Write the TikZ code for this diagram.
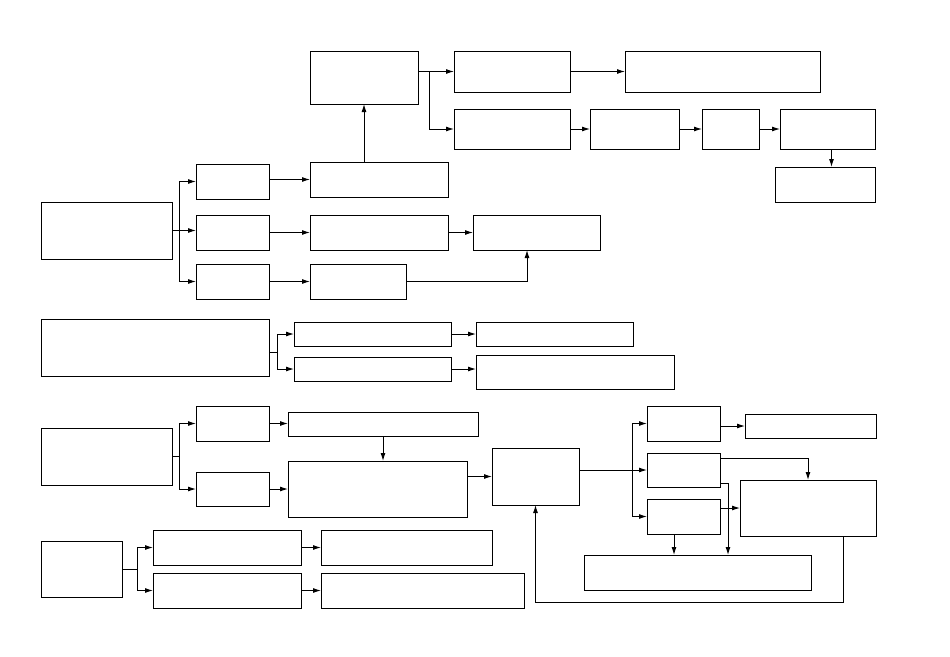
\documentclass[tikz,border=0pt]{standalone}
\usetikzlibrary{arrows.meta}
\newcommand\bx[5]{\node[box,minimum width={(#4-#2)*1pt},minimum height={(#5-#3)*1pt}] (#1) at ({(#2+#4)/2},{(#3+#5)/2}) {};}
\begin{document}
\begin{tikzpicture}[x=1pt,y=-1pt,
  box/.style={draw,line width=1pt,inner sep=0pt,outer sep=0pt,fill=white},
  arr/.style={-{Latex[length=8pt,width=5pt]},line width=1pt},
  ln/.style={line width=1pt}]
\fill[white] (0,0) rectangle (950,656);
\useasboundingbox (0,0) rectangle (950,656);
% top group
\bx{A1}{310}{51}{418}{104}
\bx{B1}{454}{51}{570}{92}
\bx{B2}{625}{51}{820}{92}
\bx{C1}{454}{109}{570}{149}
\bx{C2}{590}{109}{679}{149}
\bx{C3}{702}{109}{759}{149}
\bx{C4}{780}{109}{875}{149}
\bx{C5}{775}{167}{875}{202}
% group 1
\bx{L1}{41}{202}{172}{259}
\bx{M1}{196}{164}{269}{199}
\bx{M2}{196}{215}{269}{250}
\bx{M3}{196}{264}{269}{299}
\bx{N1}{310}{162}{448}{197}
\bx{N2}{310}{215}{448}{250}
\bx{N3}{310}{264}{406}{299}
\bx{O1}{473}{215}{600}{250}
% group 2
\bx{P1}{41}{319}{269}{376}
\bx{Q1}{294}{322}{451}{346}
\bx{Q2}{294}{357}{451}{381}
\bx{R1}{476}{322}{633}{346}
\bx{R2}{476}{355}{674}{389}
% group 3
\bx{S1}{41}{428}{172}{485}
\bx{T1}{196}{406}{269}{441}
\bx{T2}{196}{472}{269}{506}
\bx{U1}{288}{412}{478}{436}
\bx{U2}{288}{461}{467}{517}
\bx{V}{492}{448}{579}{505}
\bx{W1}{647}{406}{720}{441}
\bx{W2}{647}{453}{720}{487}
\bx{W3}{647}{499}{720}{534}
\bx{X1}{745}{414}{876}{438}
\bx{X2}{740}{480}{876}{536}
\bx{Y}{584}{555}{811}{590}
% group 4
\bx{G}{41}{541}{122}{597}
\bx{H1}{153}{530}{301}{565}
\bx{H2}{153}{573}{301}{608}
\bx{I1}{321}{530}{492}{565}
\bx{I2}{321}{573}{524}{608}

% coordinates for forks
\coordinate (fa) at (429,0);
\coordinate (f1) at (179,0);
\coordinate (f2) at (277,352);
\coordinate (f3) at (179,456.5);
\coordinate (f4) at (632,470);
\coordinate (f5) at (137,569);
\coordinate (k1) at (728,0);
\coordinate (k2) at (527,0);

% top connectors
\draw[arr] (A1.east |- B1.west) -- (B1.west);
\draw[arr] (fa |- B1.west) |- (C1.west);
\draw[arr] (B1.east) -- (B2.west);
\draw[arr] (C1.east) -- (C2.west);
\draw[arr] (C2.east) -- (C3.west);
\draw[arr] (C3.east) -- (C4.west);
\draw[arr] ([xshift=4pt]C4.south) -- ([xshift=4pt]C4.south |- C5.north);

% group 1 connectors
\draw[ln] (L1.east) -- (f1 |- L1.east);
\draw[arr] (f1 |- L1.east) |- (M1.west);
\draw[arr] (f1 |- L1.east) |- (M3.west);
\draw[arr] (f1 |- L1.east) -- (M2.west |- L1.east);
\draw[arr] (N1.west -| M1.east) -- (N1.west);
\draw[arr] (M2.east) -- (N2.west);
\draw[arr] (M3.east) -- (N3.west);
\draw[arr] (A1.south |- N1.north) -- (A1.south);
\draw[arr] (N2.east) -- (O1.west);
\draw[arr] (N3.east) -| (k2 |- O1.south);

% group 2 connectors
\draw[ln] (P1.east |- f2) -- (f2);
\draw[arr] (f2) |- (Q1.west);
\draw[arr] (f2) |- (Q2.west);
\draw[arr] (Q1.east) -- (R1.west);
\draw[arr] (Q2.east) -- (Q2.east -| R2.west);

% group 3 connectors
\draw[ln] (S1.east) -- (f3);
\draw[arr] (f3) |- (T1.west);
\draw[arr] (f3) |- (T2.west);
\draw[arr] (T1.east) -- (T1.east -| U1.west);
\draw[arr] (T2.east) -- (T2.east -| U2.west);
\draw[arr] (U1.south) -- (U1.south |- U2.north);
\draw[arr] (V.west -| U2.east) -- (V.west);
\draw[arr] (V.east |- W2.west) -- (W2.west);
\draw[arr] (f4) |- (W1.west);
\draw[arr] (f4) |- (W3.west);
\draw[arr] (X1.west -| W1.east) -- (X1.west);
\draw[arr] ([yshift=-5pt]W2.north east) -| (X2.north);
\draw[arr] ([yshift=4pt]W2.south east) -| (k1 |- Y.north);
\draw[arr] (X2.west -| W3.east) -- (X2.west);
\draw[arr] ([xshift=-9.5pt]W3.south) -- ([xshift=-9.5pt]W3.south |- Y.north);
\draw[arr] ([xshift=35pt]X2.south) -- ++(0,66) -| (V.south);

% group 4 connectors
\draw[ln] (G.east) -- (f5);
\draw[arr] (f5) |- (H1.west);
\draw[arr] (f5) |- (H2.west);
\draw[arr] (H1.east) -- (I1.west);
\draw[arr] (H2.east) -- (I2.west);
\end{tikzpicture}
\end{document}
